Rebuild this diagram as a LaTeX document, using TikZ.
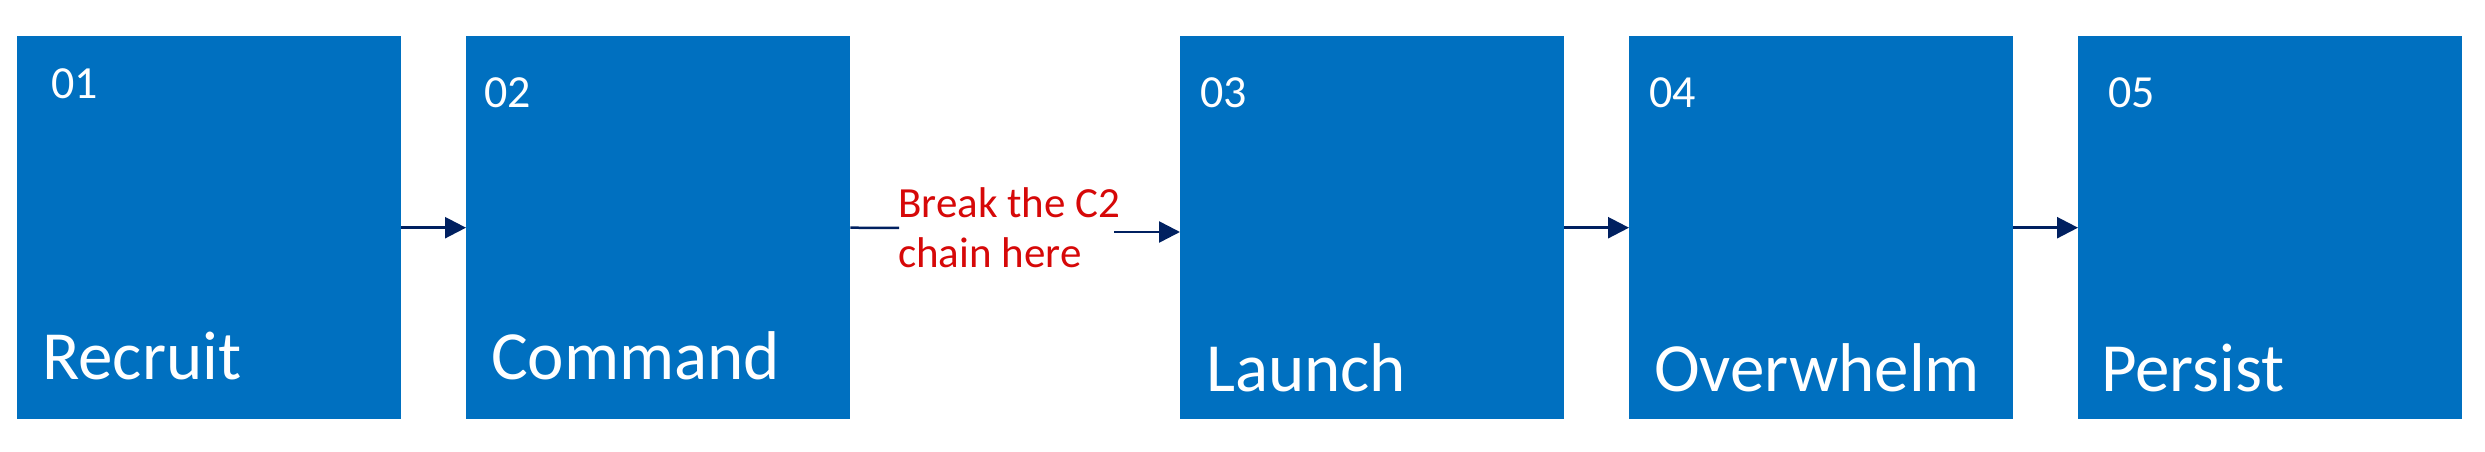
\documentclass[tikz,border=0pt]{standalone}
\usepackage{fontspec}
\setmainfont{Carlito}
\usetikzlibrary{arrows.meta}
\definecolor{boxblue}{RGB}{0,112,192}
\definecolor{navy}{RGB}{0,32,96}
\definecolor{breakred}{RGB}{214,8,8}
\tikzset{
  stage/.style={fill=boxblue, draw=none, minimum width=384bp, minimum height=383bp, inner sep=0pt, anchor=north west},
  numtxt/.style={text=white, anchor=base west, inner sep=0pt, font=\fontsize{46bp}{50bp}\selectfont},
  lbltxt/.style={text=white, anchor=base west, inner sep=0pt, font=\fontsize{69bp}{80bp}\selectfont},
  arr/.style={draw=navy, line width=2.5bp, -{Triangle[length=21bp,width=21bp]}},
  plain/.style={draw=navy, line width=2.5bp},
  redtxt/.style={text=breakred, anchor=base west, inner sep=0pt, align=left, font=\fontsize{43bp}{50bp}\selectfont}
}
\begin{document}
\begin{tikzpicture}[x=1bp,y=-1bp]
\useasboundingbox (0,0) rectangle (2485,452);
\node[stage] (b1) at (17,36) {};
\node[stage] (b2) at (466,36) {};
\node[stage] (b3) at (1180,36) {};
\node[stage] (b4) at (1629,36) {};
\node[stage] (b5) at (2078,36) {};
\node[numtxt] (n1) at (51,99) {01};
\node[numtxt] (n2) at (484,108) {02};
\node[numtxt] (n3) at (1200,108) {03};
\node[numtxt] (n4) at (1649,108) {04};
\node[numtxt] (n5) at (2108,108) {05};
\node[lbltxt] (l1) at (42,380) {Recruit};
\node[lbltxt] (l2) at (491,380) {Command};
\node[lbltxt] (l3) at (1206,391) {Launch};
\node[lbltxt] (l4) at (1654,391) {Overwhelm};
\node[lbltxt] (l5) at (2101,391) {Persist};
\node[redtxt] (br) at (898,218) {Break the C2};
\node[redtxt] (br2) at (898,268) {chain here};
\coordinate (c1) at (899,228);
\coordinate (c2) at (1114,232);
\draw[arr] (b1.east) -- (b2.west);
\draw[plain] (b2.east) -- (c1);
\draw[arr] (c2) -- (b3.west |- c2);
\draw[arr] (b3.east) -- (b4.west);
\draw[arr] (b4.east) -- (b5.west);
\end{tikzpicture}
\end{document}
